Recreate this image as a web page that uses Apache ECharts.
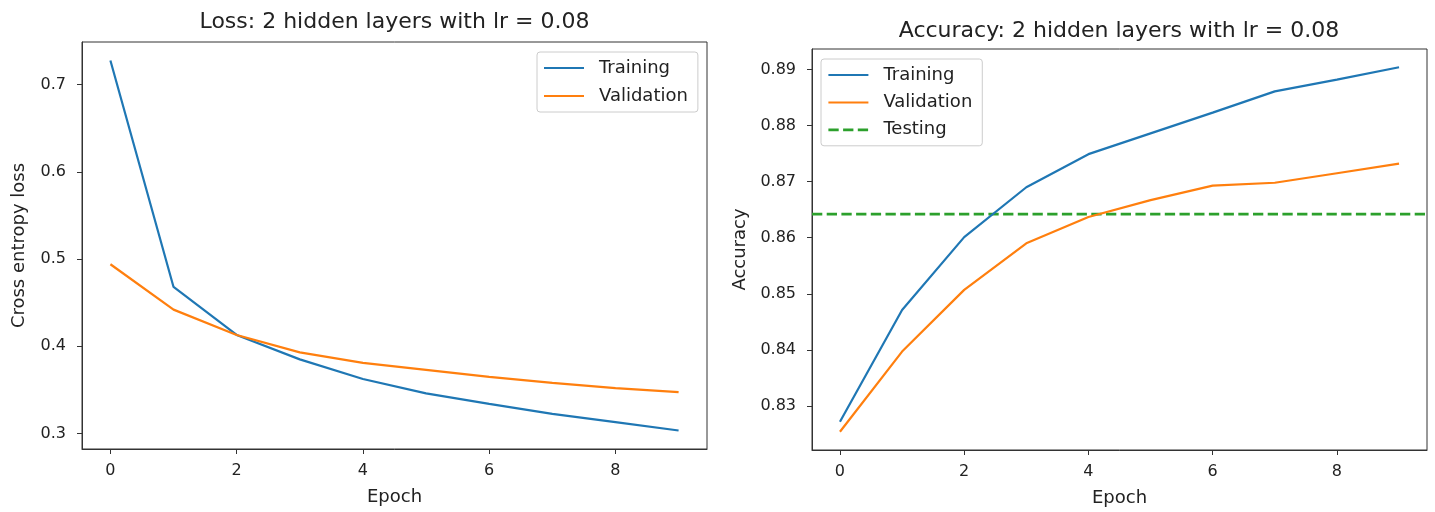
<!DOCTYPE html>
<html>
<head>
<meta charset="utf-8">
<script src="https://cdn.jsdelivr.net/npm/echarts@6/dist/echarts.min.js"></script>
<style>
html,body{margin:0;padding:0;background:#fff;}
#chart{width:1435px;height:512px;}
</style>
</head>
<body>
<div id="chart"></div>
<script>
// ---- data ----
const epochs = [0, 1, 2, 3, 4, 5, 6, 7, 8, 9];
const lossTrain = [0.7275, 0.468, 0.413, 0.385, 0.3625, 0.346, 0.334, 0.3225, 0.313, 0.3035];
const lossVal   = [0.494, 0.442, 0.413, 0.393, 0.381, 0.373, 0.365, 0.358, 0.352, 0.3475];
const accTrain  = [0.8272, 0.8471, 0.8601, 0.869, 0.8749, 0.8786, 0.8823, 0.8861, 0.8882, 0.8904];
const accVal    = [0.8254, 0.8397, 0.8507, 0.859, 0.8637, 0.8667, 0.8693, 0.8698, 0.8715, 0.8732];
const testAcc   = 0.8642;
const epochTicks = [0, 2, 4, 6, 8];
const lossTicks  = [0.3, 0.4, 0.5, 0.6, 0.7];
const accTicks   = [0.83, 0.84, 0.85, 0.86, 0.87, 0.88, 0.89];
const lossTitle = 'Loss: 2 hidden layers with lr = 0.08';
const accTitle  = 'Accuracy: 2 hidden layers with lr = 0.08';

// ---- helpers ----
function lim(arr) {
  const mn = Math.min(...arr), mx = Math.max(...arr), r = mx - mn;
  return [mn - 0.05 * r, mx + 0.05 * r];
}
const xLim = lim(epochs);
const lossLim = lim(lossTrain.concat(lossVal));
const accLim = lim(accTrain.concat(accVal, [testAcc]));
const pts = (ys) => epochs.map((e, i) => [e, ys[i]]);

const FONT = 'DejaVu Sans';
const C = { blue: '#1f77b4', orange: '#ff7f0e', green: '#2ca02c' };
const TXT = '#222';
const SPINE = '#333';
const TICK_FS = 16, LABEL_FS = 18, TITLE_FS = 22;

function xAxis(gridIndex) {
  return {
    type: 'value', gridIndex, min: xLim[0], max: xLim[1],
    name: 'Epoch', nameLocation: 'middle', nameGap: 39,
    nameTextStyle: { fontFamily: FONT, fontSize: LABEL_FS, color: TXT },
    axisLine: { show: true, onZero: false, lineStyle: { color: SPINE, width: 1 } },
    axisTick: { show: true, length: 5, inside: false, customValues: epochTicks, lineStyle: { color: SPINE, width: 1 } },
    axisLabel: { show: true, customValues: epochTicks, margin: 14, fontFamily: FONT, fontSize: TICK_FS, color: TXT,
                 formatter: (v) => String(Math.round(v)) },
    splitLine: { show: false }
  };
}
function yAxis(gridIndex, name, l, ticks, dec, gap) {
  return {
    type: 'value', gridIndex, min: l[0], max: l[1],
    name, nameLocation: 'middle', nameGap: gap,
    nameTextStyle: { fontFamily: FONT, fontSize: LABEL_FS, color: TXT },
    axisLine: { show: true, onZero: false, lineStyle: { color: SPINE, width: 1 } },
    axisTick: { show: true, length: 5, inside: false, customValues: ticks, lineStyle: { color: SPINE, width: 1 } },
    axisLabel: { show: true, customValues: ticks, margin: 16, fontFamily: FONT, fontSize: TICK_FS, color: TXT,
                 formatter: (v) => v.toFixed(dec) },
    splitLine: { show: false }
  };
}
function lineSeries(name, data, color, xi, yi, extra) {
  return Object.assign({
    type: 'line', name, data, xAxisIndex: xi, yAxisIndex: yi,
    symbol: 'none', smooth: false, color,
    lineStyle: { color, width: 2.2 }, emphasis: { disabled: true }, silent: true
  }, extra || {});
}
function legend(left, top, names, gap) {
  return {
    orient: 'vertical', left, top,
    data: names,
    itemWidth: 40, itemHeight: 14, itemGap: gap,
    padding: [6, 10, 6, 6],
    borderColor: '#cccccc', borderWidth: 1, borderRadius: 3,
    backgroundColor: 'rgba(255,255,255,0.8)',
    itemStyle: { opacity: 0, borderWidth: 0 },
    formatter: (n) => n.trim(),
    textStyle: { fontFamily: FONT, fontSize: LABEL_FS, color: TXT, lineHeight: 20, padding: [0, 0, 0, 10] },
    selectedMode: false
  };
}

const option = {
  animation: false,
  backgroundColor: '#ffffff',
  title: [
    { text: lossTitle, left: 394.5, top: 11, textAlign: 'center', padding: 0,
      textStyle: { fontFamily: FONT, fontSize: TITLE_FS, fontWeight: 'normal', color: TXT } },
    { text: accTitle, left: 1119, top: 20, textAlign: 'center', padding: 0,
      textStyle: { fontFamily: FONT, fontSize: TITLE_FS, fontWeight: 'normal', color: TXT } }
  ],
  grid: [
    { left: 82, top: 42, width: 625, height: 407, show: true, borderColor: SPINE, borderWidth: 1, backgroundColor: 'transparent' },
    { left: 812, top: 49, width: 615, height: 401, show: true, borderColor: SPINE, borderWidth: 1, backgroundColor: 'transparent' }
  ],
  xAxis: [xAxis(0), xAxis(1)],
  yAxis: [
    yAxis(0, 'Cross entropy loss', lossLim, lossTicks, 1, 54),
    yAxis(1, 'Accuracy', accLim, accTicks, 2, 63)
  ],
  legend: [
    legend(537, 52, ['Training', 'Validation'], 8),
    legend(821, 59, ['Training ', 'Validation ', { name: 'Testing', lineStyle: { width: 2.8 } }], 7.4)
  ],
  series: [
    lineSeries('Training', pts(lossTrain), C.blue, 0, 0),
    lineSeries('Validation', pts(lossVal), C.orange, 0, 0),
    lineSeries('Training ', pts(accTrain), C.blue, 1, 1),
    lineSeries('Validation ', pts(accVal), C.orange, 1, 1),
    // horizontal test-accuracy line across the full x range (like axhline)
    lineSeries('Testing', xLim.map((x) => [x, testAcc]), C.green, 1, 1,
      { lineStyle: { color: C.green, width: 2.8, type: [10.3, 4.4] }, z: 1 })
  ]
};

const chart = echarts.init(document.getElementById('chart'), null, { renderer: 'canvas' });
chart.setOption(option);
</script>
</body>
</html>
